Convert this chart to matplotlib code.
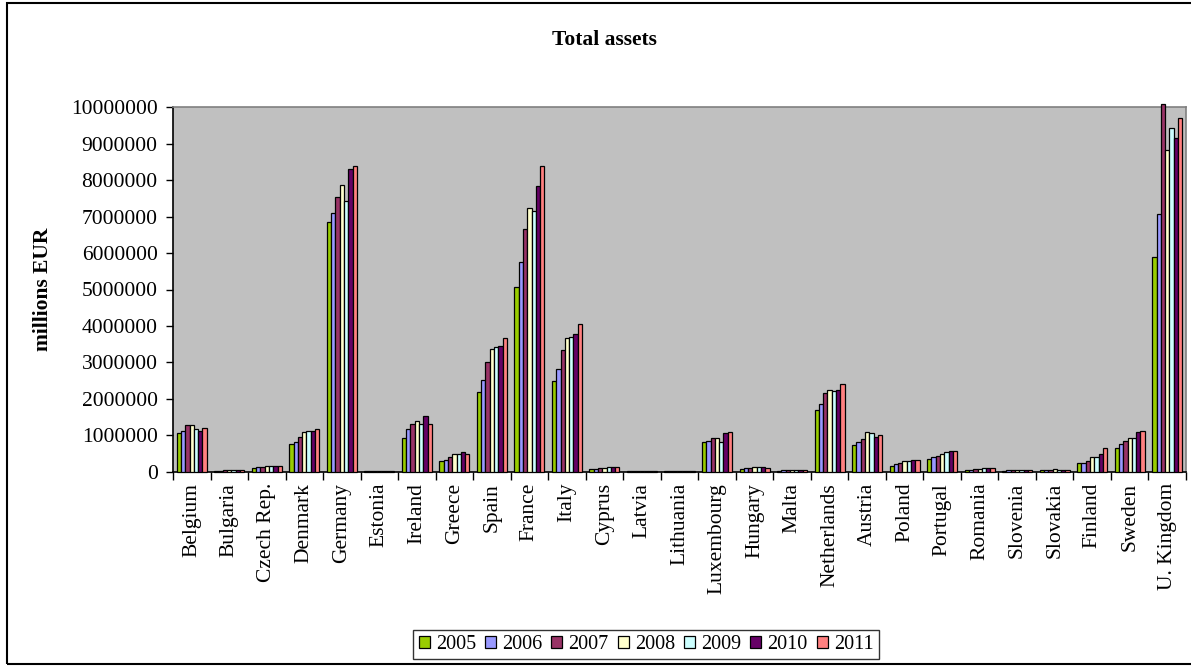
import matplotlib
matplotlib.use("Agg")
import matplotlib.pyplot as plt
import numpy as np
from matplotlib.patches import Rectangle
from matplotlib.ticker import FixedLocator, NullFormatter

plt.rcParams['font.family'] = ['Liberation Serif', 'DejaVu Serif']

countries = ["Belgium", "Bulgaria", "Czech Rep.", "Denmark", "Germany", "Estonia",
             "Ireland", "Greece", "Spain", "France", "Italy", "Cyprus", "Latvia",
             "Lithuania", "Luxembourg", "Hungary", "Malta", "Netherlands", "Austria",
             "Poland", "Portugal", "Romania", "Slovenia", "Slovakia", "Finland",
             "Sweden", "U. Kingdom"]
years = ["2005", "2006", "2007", "2008", "2009", "2010", "2011"]

belgium = [1050000, 1130000, 1270000, 1270000, 1160000, 1130000, 1200000]
bulgaria = [20000, 26000, 38000, 42000, 45000, 46000, 47000]
czech = [105000, 120000, 140000, 150000, 155000, 160000, 165000]
denmark = [770000, 810000, 960000, 1090000, 1130000, 1130000, 1160000]
germany = [6840000, 7110000, 7550000, 7880000, 7440000, 8320000, 8390000]
estonia = [11000, 15000, 20000, 22000, 21000, 20000, 20000]
ireland = [930000, 1160000, 1320000, 1400000, 1320000, 1520000, 1320000]
greece = [290000, 330000, 410000, 480000, 480000, 530000, 480000]
spain = [2180000, 2530000, 3010000, 3380000, 3410000, 3450000, 3660000]
france = [5070000, 5750000, 6670000, 7240000, 7150000, 7830000, 8390000]
italy = [2490000, 2810000, 3340000, 3660000, 3700000, 3780000, 4050000]
cyprus = [70000, 80000, 95000, 115000, 125000, 130000, 130000]
latvia = [15000, 22000, 30000, 32000, 30000, 30000, 29000]
lithuania = [13000, 17000, 24000, 26000, 26000, 26000, 24000]
luxembourg = [810000, 850000, 930000, 930000, 810000, 1050000, 1090000]
hungary = [75000, 95000, 110000, 125000, 120000, 120000, 115000]
malta = [30000, 37000, 43000, 43000, 45000, 50000, 50000]
netherlands = [1680000, 1850000, 2170000, 2250000, 2220000, 2250000, 2410000]
austria = [730000, 810000, 890000, 1090000, 1050000, 960000, 1010000]
poland = [160000, 210000, 240000, 290000, 290000, 330000, 330000]
portugal = [360000, 410000, 440000, 480000, 530000, 560000, 560000]
romania = [35000, 50000, 70000, 85000, 90000, 90000, 90000]
slovenia = [28000, 33000, 43000, 48000, 53000, 51000, 50000]
slovakia = [38000, 45000, 58000, 75000, 54000, 56000, 58000]
finland = [240000, 250000, 290000, 410000, 410000, 480000, 640000]
sweden = [640000, 760000, 850000, 930000, 930000, 1090000, 1130000]
uk = [5900000, 7070000, 10080000, 8830000, 9430000, 9150000, 9710000]

by_country = [belgium, bulgaria, czech, denmark, germany, estonia, ireland, greece,
              spain, france, italy, cyprus, latvia, lithuania, luxembourg, hungary,
              malta, netherlands, austria, poland, portugal, romania, slovenia,
              slovakia, finland, sweden, uk]
colors = ["#99CC00", "#9999FF", "#993366", "#FFFFCC", "#CCFFFF", "#660066", "#FF8080"]

data = np.array(by_country)  # countries x years

W, H = 1191, 666
fig = plt.figure(figsize=(W / 100, H / 100), dpi=100)
ax = fig.add_axes([173 / W, 1 - 471.7 / H, (1186 - 173) / W, (471.7 - 107.3) / H])
ax.set_facecolor("#C0C0C0")

n = len(countries)
x = np.arange(n)
group = 0.8
bw = group / len(years)
handles = []
for j, yr in enumerate(years):
    offs = -group / 2 + bw * (j + 0.5)
    b = ax.bar(x + offs, data[:, j], width=bw, color=colors[j], edgecolor="black",
               linewidth=0.9, label=yr, clip_on=False, zorder=3)
    handles.append(b)

ax.set_xlim(-0.5, n - 0.5)
ax.set_ylim(0, 10000000)
ax.set_yticks(np.arange(0, 10000001, 1000000))
ax.set_yticklabels([str(v) for v in range(0, 10000001, 1000000)], fontsize=15.5)
ax.tick_params(axis='y', direction='out', length=5, width=1, pad=6)

ax.xaxis.set_major_locator(FixedLocator(np.arange(-0.5, n, 1.0)))
ax.xaxis.set_major_formatter(NullFormatter())
ax.set_xticks(x, minor=True)
ax.set_xticklabels(countries, minor=True, rotation=90, fontsize=15.5)
ax.tick_params(axis='x', which='major', direction='out', length=6, width=1)
ax.tick_params(axis='x', which='minor', length=0, pad=8)

for s in ['left', 'bottom']:
    ax.spines[s].set_color("black")
    ax.spines[s].set_linewidth(1.2)
for s in ['top', 'right']:
    ax.spines[s].set_color("#808080")
    ax.spines[s].set_linewidth(1.2)

ax.set_ylabel("millions EUR", fontsize=15.5, fontweight='bold')
ax.yaxis.set_label_coords(-0.118, 0.5)

fig.text(604 / W, 1 - 40 / H, "Total assets", ha='center', va='center',
         fontsize=15.5, fontweight='bold')

leg = fig.legend(handles=handles, labels=years, loc='center',
                 bbox_to_anchor=(646 / W, 1 - 644.5 / H), ncol=7, frameon=True,
                 fontsize=14.5, handlelength=0.55, handleheight=0.55, handletextpad=0.3,
                 columnspacing=0.45, borderpad=0.25, borderaxespad=0.0,
                 fancybox=False, edgecolor="black")
leg.get_frame().set_linewidth(1.0)

border = Rectangle((7 / W, 1 - 664 / H), 1.2, (664 - 3) / H, transform=fig.transFigure,
                   fill=False, edgecolor="black", linewidth=1.5)
fig.patches.append(border)

fig.savefig("out.png", dpi=100)
